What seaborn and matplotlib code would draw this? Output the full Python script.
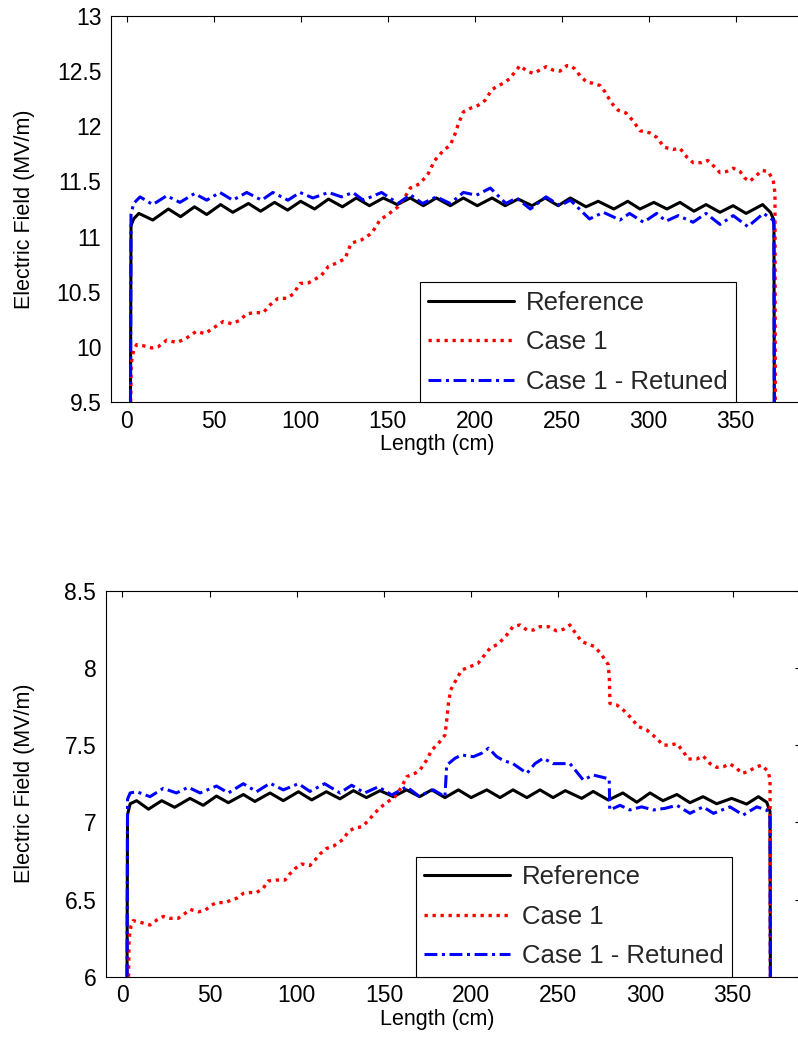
import matplotlib
matplotlib.use("Agg")
import matplotlib.pyplot as plt
import seaborn as sns
import numpy as np

# ---------------- data: top panel ----------------
ref_top_x = [2.2, 2.5, 4, 7, 15, 24, 31, 39, 46, 54, 61, 70, 77, 85, 92.5, 100, 108, 116, 124, 132,
             139.5, 147.5, 155.5, 163, 170.5, 178, 186, 193.5, 201.5, 210, 217.5, 225, 233, 240.5,
             248, 255, 264, 271, 280, 288, 295, 303, 310.5, 318, 326, 333, 341, 348.5, 356, 365.5,
             370, 372, 372.2]
ref_top_y = [9.5, 11.1, 11.16, 11.21, 11.15, 11.25, 11.18, 11.27, 11.2, 11.29, 11.22, 11.3, 11.23,
             11.31, 11.24, 11.32, 11.25, 11.34, 11.27, 11.35, 11.28, 11.35, 11.29, 11.35, 11.28,
             11.35, 11.28, 11.35, 11.28, 11.35, 11.28, 11.34, 11.28, 11.35, 11.28, 11.35, 11.27,
             11.32, 11.25, 11.32, 11.25, 11.31, 11.25, 11.31, 11.23, 11.29, 11.22, 11.28, 11.21,
             11.29, 11.22, 11.15, 9.5]

case1_top_x = [2.3, 2.6, 4, 5.7, 9.6, 14.4, 18, 23, 28.7, 33.5,
               40, 45, 50.7, 55.5, 60.3, 65, 69, 73.7, 78.5, 82.4,
               87, 92, 95.8, 99.6, 104.4, 109, 112, 116, 120.7, 125.5,
               129, 135, 140.8, 145.6, 151, 156, 160, 163, 168.6, 173.3,
               177, 182, 186, 188.7, 190.6, 193.5, 197, 202, 206, 209.8,
               212.6, 216.4, 220, 223, 226, 230, 233.7, 237.5, 241, 245,
               249, 253, 255, 257.6, 260.5, 264.4, 268, 272, 275, 278.7,
               282.5, 287, 291, 295, 300.7, 304.6, 309, 314, 318, 322,
               325.6, 330.5, 334, 338, 341, 344.8, 348.6, 352.5, 355.3, 358,
               361, 365, 368.7, 371.6, 372.6, 372.8]
case1_top_y = [9.5, 9.85, 9.97, 10.02, 10.01, 9.99, 10.0, 10.06, 10.04, 10.07,
               10.14, 10.12, 10.18, 10.23, 10.21, 10.24, 10.30, 10.31, 10.31, 10.38,
               10.44, 10.44, 10.48, 10.575, 10.58, 10.62, 10.65, 10.73, 10.76, 10.80,
               10.94, 10.97, 11.03, 11.15, 11.21, 11.27, 11.36, 11.44, 11.48, 11.57,
               11.69, 11.78, 11.83, 11.93, 12.02, 12.13, 12.16, 12.19, 12.235, 12.33,
               12.36, 12.39, 12.43, 12.49, 12.55, 12.50, 12.48, 12.51, 12.54, 12.51,
               12.50, 12.55, 12.55, 12.52, 12.46, 12.40, 12.39, 12.37, 12.31, 12.21,
               12.145, 12.12, 12.05, 11.96, 11.94, 11.90, 11.81, 11.79, 11.80, 11.72,
               11.67, 11.67, 11.69, 11.63, 11.58, 11.59, 11.62, 11.59, 11.53, 11.50,
               11.54, 11.60, 11.59, 11.51, 11.39, 9.5]

ret_top_x = [2.2, 2.5, 4, 7.7, 15, 23, 30.6, 39, 46, 53.6,
             61, 69, 77.6, 84, 92.7, 99.6, 107, 116, 123.5, 130,
             136, 146.5, 156, 163, 170, 178, 186, 193.5, 201, 209,
             218, 224, 232, 241, 249, 255, 266, 274, 283.5, 289,
             297, 304.6, 310, 317, 325.5, 333, 341, 348.6, 357, 366,
             371.5, 372, 372.2]
ret_top_y = [9.5, 11.2, 11.3, 11.36, 11.29, 11.37, 11.31, 11.39, 11.33, 11.40,
             11.33, 11.40, 11.33, 11.40, 11.33, 11.40, 11.35, 11.40, 11.36, 11.40,
             11.33, 11.40, 11.30, 11.38, 11.30, 11.36, 11.30, 11.40, 11.375, 11.44,
             11.30, 11.35, 11.25, 11.36, 11.28, 11.33, 11.16, 11.22, 11.15, 11.21,
             11.13, 11.21, 11.14, 11.19, 11.13, 11.21, 11.11, 11.19, 11.09, 11.21,
             11.15, 11.1, 9.5]

# ---------------- data: bottom panel ----------------
ref_bot_x = [2.7, 3.0, 4.5, 8.2, 15, 22.6, 30, 38.8, 46.4, 54,
             60.8, 69.4, 76, 84.7, 92.3, 101, 108.6, 117, 124.8, 132.5,
             140, 147.8, 155.4, 163, 170.5, 177.4, 185, 192.7, 200, 209,
             216.6, 224, 232, 239.5, 247, 254, 263.4, 270, 278.7, 287,
             295, 302.6, 310, 318, 325.5, 333, 340.8, 349.4, 358, 364.7,
             369.5, 371.4, 371.6]
ref_bot_y = [6.0, 7.05, 7.12, 7.14, 7.085, 7.14, 7.097, 7.155, 7.11, 7.17,
             7.127, 7.18, 7.135, 7.19, 7.14, 7.198, 7.145, 7.198, 7.152, 7.205,
             7.16, 7.205, 7.166, 7.21, 7.166, 7.21, 7.16, 7.21, 7.16, 7.21,
             7.16, 7.21, 7.16, 7.21, 7.16, 7.205, 7.155, 7.20, 7.144, 7.19,
             7.13, 7.19, 7.14, 7.18, 7.127, 7.166, 7.12, 7.155, 7.118, 7.166,
             7.13, 7.07, 6.0]

case1_bot_x = [3.6, 3.9, 5, 6.3, 11, 15.9, 19.7, 23.5, 27.3, 32,
               36, 38.8, 43.6, 47.4, 51.3, 54, 59, 62.7, 65.6, 69.4,
               73.2, 77, 80.8, 83.7, 88.5, 93.3, 96, 99, 102.9, 107.6,
               110.5, 113.4, 117, 121, 126.7, 129.6, 133.4, 137.3, 141, 144,
               147.8, 152.5, 156.4, 160.2, 163, 167.8, 170.7, 174.5, 177.4, 181.2,
               185, 186, 187, 188.3, 190.8, 194.6, 199.4, 204, 207, 210.8,
               215.6, 220.4, 224, 228, 232, 235.7, 239.5, 244.3, 249, 253,
               256.7, 258.6, 263.4, 267, 271, 274.9, 278.7, 279.3, 279.6, 283.5,
               287.3, 291, 295.9, 300.7, 306.4, 310, 314, 318, 321.7, 324.5,
               329.4, 333, 337, 340.8, 344.6, 348.4, 352.3, 355.1, 359, 362.8,
               366.6, 370.4, 371.4, 371.6]
case1_bot_y = [6.0, 6.25, 6.33, 6.363, 6.35, 6.335, 6.367, 6.39, 6.378, 6.378,
               6.41, 6.436, 6.42, 6.43, 6.464, 6.48, 6.48, 6.497, 6.508, 6.54,
               6.545, 6.545, 6.573, 6.62, 6.626, 6.626, 6.665, 6.70, 6.73, 6.72,
               6.756, 6.795, 6.83, 6.845, 6.89, 6.94, 6.965, 6.97, 7.01, 7.05,
               7.095, 7.135, 7.166, 7.23, 7.295, 7.317, 7.339, 7.403, 7.468, 7.51,
               7.565, 7.66, 7.77, 7.857, 7.91, 7.986, 8.008, 8.03, 8.073, 8.127,
               8.155, 8.213, 8.267, 8.278, 8.245, 8.245, 8.267, 8.267, 8.24, 8.25,
               8.278, 8.245, 8.17, 8.155, 8.137, 8.084, 8.02, 7.92, 7.77, 7.76,
               7.727, 7.684, 7.62, 7.598, 7.544, 7.50, 7.50, 7.51, 7.457, 7.41,
               7.41, 7.43, 7.38, 7.356, 7.36, 7.378, 7.35, 7.317, 7.328, 7.356,
               7.37, 7.328, 7.274, 6.0]

ret_bot_x = [2.7, 3.0, 4.5, 8.2, 15.9, 23.5, 31, 37.8, 44.6, 54,
             60.8, 69.4, 77, 84.7, 92.3, 101, 107.6, 116, 124.8, 131.5,
             139, 146.8, 154.5, 163, 170, 178.3, 185, 186, 190.8, 194.6,
             201.3, 206, 210, 214.7, 218.5, 224, 232, 236.6, 241.4, 247,
             253, 256.7, 264.3, 270, 276, 279.2, 279.5, 285.4, 291, 297.8,
             304.5, 311, 318, 325.5, 333, 339, 348.4, 356, 363.8, 369.5,
             371.4, 371.6]
ret_bot_y = [6.0, 7.15, 7.19, 7.198, 7.166, 7.22, 7.19, 7.227, 7.19, 7.235,
             7.19, 7.25, 7.198, 7.253, 7.21, 7.25, 7.2, 7.25, 7.19, 7.24,
             7.19, 7.23, 7.177, 7.23, 7.17, 7.21, 7.166, 7.37, 7.415, 7.436,
             7.425, 7.447, 7.48, 7.425, 7.40, 7.38, 7.317, 7.38, 7.415, 7.38,
             7.38, 7.38, 7.274, 7.306, 7.29, 7.28, 7.08, 7.11, 7.08, 7.10,
             7.08, 7.09, 7.11, 7.058, 7.10, 7.058, 7.10, 7.047, 7.10, 7.08,
             7.03, 6.0]

labels = ["Reference", "Case 1", "Case 1 - Retuned"]
x_ticks = [0, 50, 100, 150, 200, 250, 300, 350]
y_ticks_top = [9.5, 10, 10.5, 11, 11.5, 12, 12.5, 13]
y_ticks_bot = [6, 6.5, 7, 7.5, 8, 8.5]
x_label = "Length (cm)"
y_label = "Electric Field (MV/m)"

# ---------------- style ----------------
sns.set_theme(style="white")
plt.rcParams["font.family"] = ["Liberation Sans", "DejaVu Sans"]
plt.rcParams["axes.linewidth"] = 0.8

W, H = 798, 1051
fig = plt.figure(figsize=(W / 100, H / 100), dpi=100)
fig.patch.set_facecolor("white")

LW = 2.2
styles = [
    dict(color="black", linestyle="-", linewidth=LW),
    dict(color="#ff0000", linestyle=(0, (1.0, 1.4)), linewidth=2.4),
    dict(color="#0000ff", linestyle=(0, (4.2, 1.5, 1.0, 1.5)), linewidth=LW),
]


def px_axes(left, top, right, bottom):
    return [left / W, 1 - bottom / H, (right - left) / W, (bottom - top) / H]


def draw(ax, series, xlim, ylim, yticks, leg_right, xlab_fx, ylab_fx):
    for (xs, ys), lab, st in zip(series, labels, styles):
        sns.lineplot(x=xs, y=ys, ax=ax, label=lab, estimator=None, sort=False, **st)
    for line in ax.get_lines():
        line.set_dash_capstyle("butt")
    ax.set_xlim(*xlim)
    ax.set_ylim(*ylim)
    ax.set_xticks(x_ticks)
    ax.set_xticklabels([f"{v:g}" for v in x_ticks])
    ax.set_yticks(yticks)
    ax.set_yticklabels([f"{v:g}" for v in yticks])
    ax.tick_params(direction="in", length=4.5, width=0.8, top=True, right=True,
                   labelsize=16.5, colors="black")
    ax.tick_params(axis="x", pad=5.5)
    ax.tick_params(axis="y", pad=7)
    for s in ax.spines.values():
        s.set_color("black")
        s.set_linewidth(0.8)
    ax.set_xlabel(x_label, fontsize=15.5, color="black")
    ax.set_ylabel(y_label, fontsize=15.5, color="black")
    ax.xaxis.set_label_coords(xlab_fx, -0.083)
    ax.yaxis.set_label_coords(ylab_fx, 0.5)
    leg = ax.legend(loc="lower right", bbox_to_anchor=(leg_right, 0.0), borderaxespad=0,
                    fontsize=18.5, frameon=True, fancybox=False, edgecolor="black",
                    handlelength=3.35, handletextpad=0.45, labelspacing=0.6,
                    borderpad=0.33, framealpha=1)
    leg.get_frame().set_linewidth(0.8)
    for h, st in zip(leg.get_lines(), styles):
        h.set_linewidth(st["linewidth"])


ax1 = fig.add_axes(px_axes(111, 16, 111 + 401 * 1.74, 402))
draw(ax1,
     [(ref_top_x, ref_top_y), (case1_top_x, case1_top_y), (ret_top_x, ret_top_y)],
     (-9, 392), (9.5, 13), y_ticks_top, 0.896, 0.468, -0.109)

ax2 = fig.add_axes(px_axes(106, 590.7, 106 + 398.35 * 1.744, 976.7))
draw(ax2,
     [(ref_bot_x, ref_bot_y), (case1_bot_x, case1_bot_y), (ret_bot_x, ret_bot_y)],
     (-9.35, 389), (6, 8.5), y_ticks_bot, 0.901, 0.477, -0.102)

fig.savefig("out.png", dpi=100, facecolor="white")
